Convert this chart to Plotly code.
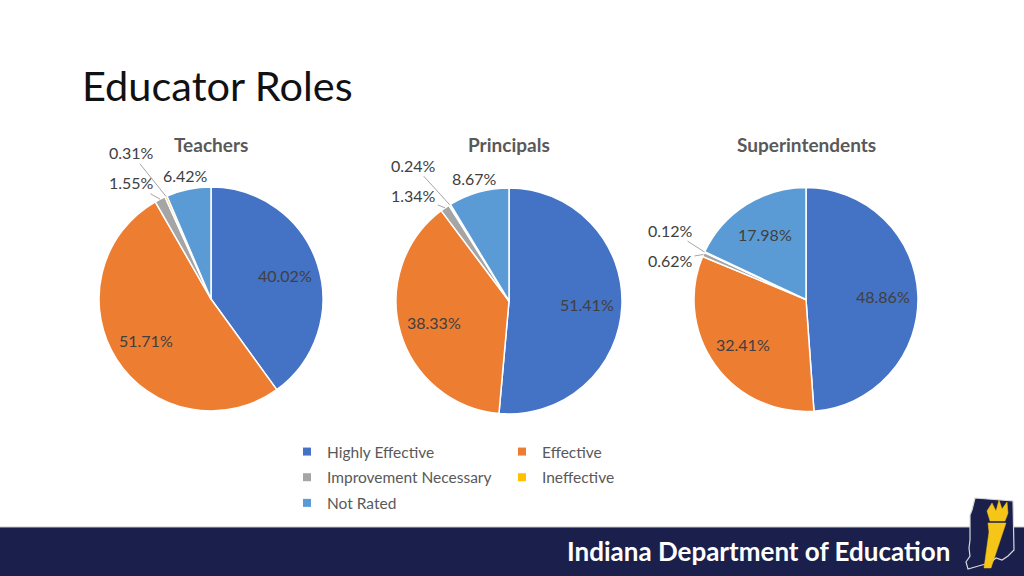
import math
import plotly.graph_objects as go

# ---------------- data ----------------
categories = ["Highly Effective", "Effective", "Improvement Necessary", "Ineffective", "Not Rated"]
colors = ["#4472C4", "#ED7D31", "#A5A5A5", "#FFC000", "#5B9BD5"]
groups = ["Teachers", "Principals", "Superintendents"]
teachers = [40.02, 51.71, 1.55, 0.31, 6.42]
principals = [51.41, 38.33, 1.34, 0.24, 8.67]
superintendents = [48.86, 32.41, 0.62, 0.12, 17.98]
series = [teachers, principals, superintendents]

# ---------------- layout constants (pixels) ----------------
W, H = 1024, 576
pie_geom = [(211, 299, 112), (509, 301, 113), (806, 299.5, 112)]  # cx, cy, R

def px(x):
    return x / W

def py(y):
    return 1 - y / H

fig = go.Figure()
annotations = []
label_font = dict(family="Lato, Open Sans, sans-serif", size=16, color="#404040")

def ann(x, y, text, font, **kw):
    d = dict(x=px(x), y=py(y), xref="paper", yref="paper", text=text, font=font,
             xanchor="center", yanchor="middle", showarrow=False)
    d.update(kw)
    return d

for name, vals, (cx, cy, R) in zip(groups, series, pie_geom):
    fig.add_trace(go.Pie(
        labels=categories, values=vals, sort=False, direction="clockwise", rotation=0,
        marker=dict(colors=colors, line=dict(color="white", width=1.5)),
        textinfo="none", hoverinfo="label+percent", showlegend=False, name=name,
        domain=dict(x=[px(cx - R), px(cx + R)], y=[py(cy + R), py(cy - R)]),
    ))
    total = sum(vals)
    cum = 0.0
    first_tiny = None
    for v in vals:
        mid = 360.0 * (cum + v / 2) / total
        cum += v
        txt = f"{v:.2f}%"
        a = math.radians(mid)
        if v >= 10:
            r = 0.69 * R
            annotations.append(ann(cx + r * math.sin(a), cy - r * math.cos(a), txt, label_font))
        elif v >= 2:
            r = 1.13 * R
            annotations.append(ann(cx + r * math.sin(a), cy - r * math.cos(a), txt, label_font))
        else:
            tipx, tipy = cx + R * math.sin(a), cy - R * math.cos(a)
            if first_tiny is None:
                la = math.radians(mid - 7.5)
                lx, ly = cx + 1.26 * R * math.sin(la), cy - 1.26 * R * math.cos(la)
                first_tiny = (lx, ly)
            else:
                lx, ly = first_tiny[0], first_tiny[1] - 30
            annotations.append(ann(tipx, tipy, txt, label_font, showarrow=True,
                                   ax=lx - tipx, ay=ly - tipy, arrowhead=0, arrowwidth=1,
                                   arrowcolor="#A6A6A6", standoff=0))
    annotations.append(ann(cx, 144, f"<b>{name}</b>",
                           dict(family="Lato, sans-serif", size=19, color="#595959")))

# legend entries (dummy traces so the legend can be laid out in two columns)
leg_assign = ["legend", "legend2", "legend", "legend2", "legend"]
for cat, col, lg in zip(categories, colors, leg_assign):
    fig.add_trace(go.Scatter(x=[None], y=[None], mode="markers", name=cat, legend=lg,
                             legendgroup=cat,
                             marker=dict(symbol="square", size=8, color=col)))

annotations.append(ann(80, 85, "Educator Roles",
                       dict(family="Lato, sans-serif", size=41.5, color="#111111"), xanchor="left"))
annotations.append(ann(758, 551, "<b>Indiana Department of Education</b>",
                       dict(family="Lato, sans-serif", size=26, color="white")))

def path(points):
    return "M " + " L ".join(f"{px(x):.5f},{py(y):.5f}" for x, y in points) + " Z"

indiana = [(975, 498), (1013, 501), (1014, 550), (1008, 556), (1002, 560), (996, 558), (990, 563),
           (982, 565), (975, 567), (968, 569), (966, 562), (970, 556), (969, 548), (970, 540),
           (970, 515), (972, 510)]
flame = [(990, 521), (987, 511), (992, 503), (996, 511), (999, 500), (1002, 509), (1007, 502),
         (1008, 513), (1005, 521)]
handle = [(988, 523), (1006, 523), (1003, 532), (991, 568), (984, 568), (989, 532)]

shapes = [
    dict(type="rect", xref="paper", yref="paper", x0=0, x1=1, y0=0, y1=py(527),
         fillcolor="#1B1F4B", line=dict(width=0), layer="below"),
    dict(type="line", xref="paper", yref="paper", x0=0, x1=1, y0=py(527), y1=py(527),
         line=dict(color="#C8C8C8", width=1)),
    dict(type="path", xref="paper", yref="paper", path=path(indiana), fillcolor="#1B1F4B",
         line=dict(color="#D9D9D9", width=1.2)),
    dict(type="path", xref="paper", yref="paper", path=path(flame), fillcolor="#F5C518",
         line=dict(color="#F5C518", width=0.5)),
    dict(type="path", xref="paper", yref="paper", path=path(handle), fillcolor="#F5C518",
         line=dict(color="#F5C518", width=0.5)),
]

legend_common = dict(orientation="v", yanchor="top", xanchor="left", bgcolor="rgba(0,0,0,0)",
                     font=dict(family="Lato, sans-serif", size=15.5, color="#595959"),
                     traceorder="grouped", tracegroupgap=2.5, itemclick=False, itemdoubleclick=False)

fig.update_layout(
    width=W, height=H, margin=dict(l=0, r=0, t=0, b=0),
    paper_bgcolor="white", plot_bgcolor="white",
    xaxis=dict(visible=False), yaxis=dict(visible=False),
    annotations=annotations, shapes=shapes,
    legend=dict(x=px(287), y=py(435), **legend_common),
    legend2=dict(x=px(502), y=py(435), **legend_common),
)

fig.write_html("out.html", config={"displayModeBar": False},
               post_script="document.body.style.margin='0';document.body.style.overflow='hidden';")
